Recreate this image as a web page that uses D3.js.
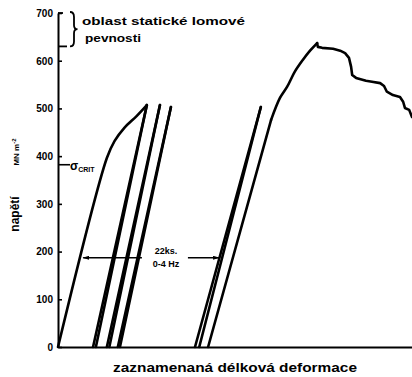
<!DOCTYPE html>
<html>
<head>
<meta charset="utf-8">
<script src="https://cdn.jsdelivr.net/npm/d3@7"></script>
<style>
  html, body { margin: 0; padding: 0; background: #fff; }
  svg { display: block; }
</style>
</head>
<body>
<svg id="chart" width="412" height="377"></svg>
<script>
// Stress axis ticks (MN m^-2)
const stressTicks = [0, 100, 200, 300, 400, 500, 600, 700];

// First loading curve: [recorded strain (rel. units), stress]
const firstLoading = [[0, 0], [13.8, 396], [16.0, 432], [18.8, 460], [22.2, 484], [25.1, 507]];

// Cyclic unload/reload loops: [unload foot strain, reload foot strain, peak strain, peak stress]
const cycles = [
  [9.9, 10.7, 25.1, 507],
  [13.8, 14.5, 28.8, 507],
  [16.9, 17.5, 31.9, 503],
  [38.7, 39.9, 57.3, 503]
];

// Final loading to fracture and the post-peak branch
const finalLoading = [
  [42.4, 0], [60.2, 476], [62.7, 522], [64.7, 545], [66.9, 577], [69.2, 602], [71.2, 621], [73.2, 637],
  [73.4, 629], [74.6, 627], [77.7, 625], [79.7, 621], [81.1, 616], [82.2, 606], [82.8, 587], [83.1, 570],
  [84.2, 564], [87.0, 558], [88.7, 556], [91.0, 553], [92.1, 547], [92.9, 535], [94.6, 528], [96.6, 524],
  [97.5, 514], [98.0, 501], [99.2, 497], [100, 482]
];

// Critical stress and static fracture strength band
const sigmaCrit = 382;
const strengthBand = [630, 700];

// Cycle-count annotation: stress level, arrow spans (strain) and text
const cycleStress = 187;
const cycleArrowLeft = [23.7, 7.1];
const cycleArrowRight = [36.7, 45.5];
const cycleLabel = ["22ks.", "0-4 Hz"];
const cycleLabelStrain = 30.5;

const texts = {
  yTitle: "napětí",
  yUnit: "MN m",
  yUnitExp: "-2",
  xTitle: "zaznamenaná délková deformace",
  band1: "oblast statické lomové",
  band2: "pevnosti"
};

const svg = d3.select("#chart");
const x = d3.scaleLinear().domain([0, 100]).range([58, 412]);
const y = d3.scaleLinear().domain([0, 700]).range([347, 13]);

const ink = "#000";
const font = "'Liberation Sans', Arial, sans-serif";

svg.append("defs").append("marker")
  .attr("id", "head")
  .attr("viewBox", "0 0 10 6")
  .attr("refX", 9).attr("refY", 3)
  .attr("markerWidth", 7).attr("markerHeight", 4)
  .attr("markerUnits", "userSpaceOnUse")
  .attr("orient", "auto")
  .append("path").attr("d", "M0,0 L10,3 L0,6 Z").attr("fill", ink);

// Axes
const yAxis = d3.axisLeft(y).tickValues(stressTicks).tickSize(-4).tickSizeOuter(0).tickPadding(5);
const gy = svg.append("g").attr("transform", `translate(${x(0)},0)`).call(yAxis);
gy.select(".domain").attr("stroke", ink).attr("stroke-width", 2);
gy.selectAll(".tick line").attr("stroke", ink).attr("stroke-width", 1.6);
gy.selectAll(".tick text")
  .attr("fill", ink).style("font-family", font).style("font-size", "10px").style("font-weight", "bold")
  .attr("dy", "0.34em");

const xAxis = d3.axisBottom(x).tickValues([]).tickSizeOuter(0);
const gx = svg.append("g").attr("transform", `translate(0,${y(0)})`).call(xAxis);
gx.select(".domain").attr("stroke", ink).attr("stroke-width", 2);

const line = d3.line().x(d => x(d[0])).y(d => y(d[1]));
const curve = d3.line().x(d => x(d[0])).y(d => y(d[1])).curve(d3.curveCatmullRom.alpha(0.5));

const marks = svg.append("g")
  .attr("fill", "none").attr("stroke", ink).attr("stroke-width", 2.6)
  .attr("stroke-linejoin", "round").attr("stroke-linecap", "round");

marks.append("path").attr("d", curve(firstLoading));

cycles.forEach(([unloadFoot, reloadFoot, peakStrain, peakStress]) => {
  marks.append("path").attr("d", line([[peakStrain, peakStress], [unloadFoot, 0]]));
  marks.append("path").attr("d", line([[reloadFoot, 0], [peakStrain, peakStress]]));
});

marks.append("path").attr("d", line(finalLoading.slice(0, 2)));
marks.append("path").attr("d", curve(finalLoading.slice(1, 8)));
marks.append("path").attr("d", line(finalLoading.slice(7)));

// Static fracture strength band marker on the stress axis
const band = svg.append("g").attr("fill", "none").attr("stroke", ink).attr("stroke-width", 1.8);
band.append("line").attr("x1", x(0)).attr("x2", x(0) + 5).attr("y1", y(strengthBand[1])).attr("y2", y(strengthBand[1]));
band.append("line").attr("x1", x(0)).attr("x2", x(0) + 9).attr("y1", y(strengthBand[0])).attr("y2", y(strengthBand[0]));
const bTop = y(strengthBand[1]) - 1, bBot = y(strengthBand[0]), bMid = (bTop + bBot) / 2;
band.append("path").attr("d",
  `M70,${bTop} Q74,${bTop} 74,${bTop + 5} L74,${bMid - 4} Q74,${bMid} 77.5,${bMid} ` +
  `Q74,${bMid} 74,${bMid + 4} L74,${bBot - 5} Q74,${bBot} 70,${bBot}`);

svg.append("text").attr("x", 82).attr("y", 25)
  .attr("textLength", 163).attr("lengthAdjust", "spacingAndGlyphs")
  .style("font-family", font).style("font-size", "11px").style("font-weight", "bold")
  .text(texts.band1);
svg.append("text").attr("x", 85).attr("y", 42)
  .attr("textLength", 56).attr("lengthAdjust", "spacingAndGlyphs")
  .style("font-family", font).style("font-size", "11px").style("font-weight", "bold")
  .text(texts.band2);

// Critical stress
svg.append("line").attr("x1", x(0)).attr("x2", x(0) + 12).attr("y1", y(sigmaCrit)).attr("y2", y(sigmaCrit))
  .attr("stroke", ink).attr("stroke-width", 1.6);
const sc = svg.append("text").attr("x", x(0) + 12).attr("y", y(sigmaCrit) + 5)
  .style("font-family", font).style("font-size", "12px").style("font-weight", "bold");
sc.append("tspan").text("σ");
sc.append("tspan").attr("dy", 2).style("font-size", "7px").text("CRIT");

// Cycle-count annotation
const ann = svg.append("g").attr("stroke", ink).attr("stroke-width", 1.4);
ann.append("line")
  .attr("x1", x(cycleArrowLeft[0])).attr("x2", x(cycleArrowLeft[1]))
  .attr("y1", y(cycleStress)).attr("y2", y(cycleStress)).attr("marker-end", "url(#head)");
ann.append("line")
  .attr("x1", x(cycleArrowRight[0])).attr("x2", x(cycleArrowRight[1]))
  .attr("y1", y(cycleStress)).attr("y2", y(cycleStress)).attr("marker-end", "url(#head)");
svg.selectAll(".cyc").data(cycleLabel).join("text").attr("class", "cyc")
  .attr("x", x(cycleLabelStrain)).attr("y", (d, i) => y(cycleStress) - 4 + i * 13)
  .attr("text-anchor", "middle")
  .style("font-family", font).style("font-size", "9px").style("font-weight", "bold")
  .text(d => d);

// Axis titles
svg.append("text").attr("transform", `translate(19,214) rotate(-90)`)
  .attr("text-anchor", "middle")
  .style("font-family", font).style("font-size", "12px").style("font-weight", "bold")
  .text(texts.yTitle);
const yu = svg.append("text").attr("transform", `translate(19,152) rotate(-90)`)
  .attr("text-anchor", "middle")
  .style("font-family", font).style("font-size", "8px").style("font-weight", "bold");
yu.append("tspan").text(texts.yUnit);
yu.append("tspan").attr("dy", -3).style("font-size", "6px").text(texts.yUnitExp);

svg.append("text").attr("x", 235).attr("y", 372)
  .attr("text-anchor", "middle").attr("textLength", 244).attr("lengthAdjust", "spacingAndGlyphs")
  .style("font-family", font).style("font-size", "12px").style("font-weight", "bold")
  .text(texts.xTitle);
</script>
</body>
</html>
